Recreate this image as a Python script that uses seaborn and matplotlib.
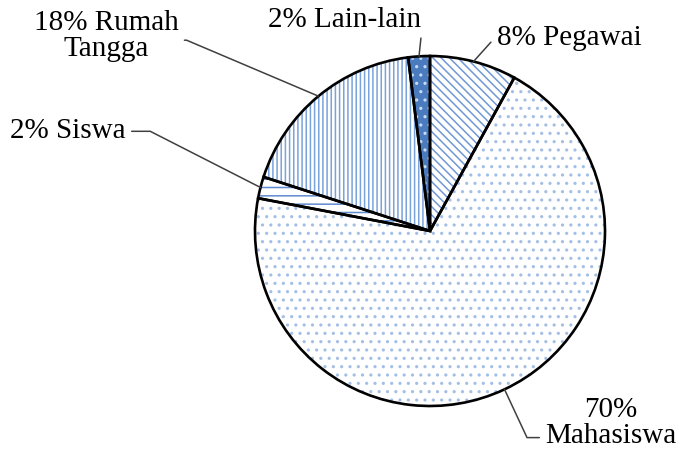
import numpy as np
import matplotlib
matplotlib.use("Agg")
import matplotlib.pyplot as plt
import seaborn as sns

# share of respondents by occupation (percent), clockwise from 12 o'clock
labels = ["Pegawai", "Mahasiswa", "Siswa", "Rumah Tangga", "Lain-lain"]
shares = [8, 70, 2, 18, 2]
label_texts = ["8% Pegawai", "70%\nMahasiswa", "2% Siswa", "18% Rumah\nTangga", "2% Lain-lain"]

sns.set_theme(style="white")
plt.rcParams['font.family'] = ['Liberation Serif', 'DejaVu Serif']
plt.rcParams['hatch.linewidth'] = 1.1

W, H = 678, 452
R = 175          # pie radius in pixels
CX, CY = 430, 232  # pie centre in pixels (from top-left)

fig = plt.figure(figsize=(W / 100, H / 100), dpi=100)
ax = fig.add_axes([0, 0, 1, 1])


def px(x, y):
    # pixel position -> data position
    return ((x - CX) / R, (CY - y) / R)


faces = ["white", "white", "white", "white", "#4a7bbf"]
hatch_cols = ["#6f98d4", "#a3bfe6", "#5f8bcf", "#7aa2db", "#c9d9f0"]
hatches = ["\\\\\\\\", "..", "--", "||||", ".."]

# fill + hatch layer
wedges, _ = ax.pie(shares, startangle=90, counterclock=False, radius=1,
                   wedgeprops=dict(linewidth=0))
for w, fc, hc, h in zip(wedges, faces, hatch_cols, hatches):
    w.set_facecolor(fc)
    w.set_edgecolor(hc)
    w.set_hatch(h)
    w.set_linewidth(0)

# black outline layer
ax.pie(shares, startangle=90, counterclock=False, radius=1,
       wedgeprops=dict(fill=False, edgecolor="black", linewidth=1.9))

# pie() resets the limits, so set them afterwards
ax.set_aspect("auto")
ax.set_xlim(-CX / R, (W - CX) / R)
ax.set_ylim(-(H - CY) / R, CY / R)
ax.axis("off")

# mid angle of each wedge
ends = 90 - 3.6 * np.cumsum(shares)
starts = ends + 3.6 * np.array(shares)
mids = np.deg2rad((starts + ends) / 2)

# label placement (pixels), alignment, relpos on text box, leader angle
layout = {
    "Pegawai":      dict(pos=(497, 38), ha="left", rel=(0, 0.3), cs="angle,angleA=0,angleB=48,rad=0"),
    "Mahasiswa":    dict(pos=(611, 423), ha="center", rel=(0, 0.2), cs="angle,angleA=0,angleB=-65,rad=0"),
    "Siswa":        dict(pos=(10, 131), ha="left", rel=(1, 0.45), cs="angle,angleA=0,angleB=-27,rad=0"),
    "Rumah Tangga": dict(pos=(106, 36), ha="center", rel=(1, 0.4), cs="angle,angleA=0,angleB=-23,rad=0"),
    "Lain-lain":    dict(pos=(345, 20), ha="center", rel=(1, 0.0), cs="arc3,rad=0"),
}

for lab, txt, a in zip(labels, label_texts, mids):
    L = layout[lab]
    ax.annotate(txt, xy=(np.cos(a), np.sin(a)), xytext=px(*L["pos"]),
                ha=L["ha"], va="center", multialignment="center",
                fontsize=21, color="black", linespacing=1.0,
                arrowprops=dict(arrowstyle="-", color="#404040", lw=1.1,
                                connectionstyle=L["cs"], relpos=L["rel"],
                                shrinkA=2, shrinkB=0))

fig.savefig("out.png", dpi=100, facecolor="white")
